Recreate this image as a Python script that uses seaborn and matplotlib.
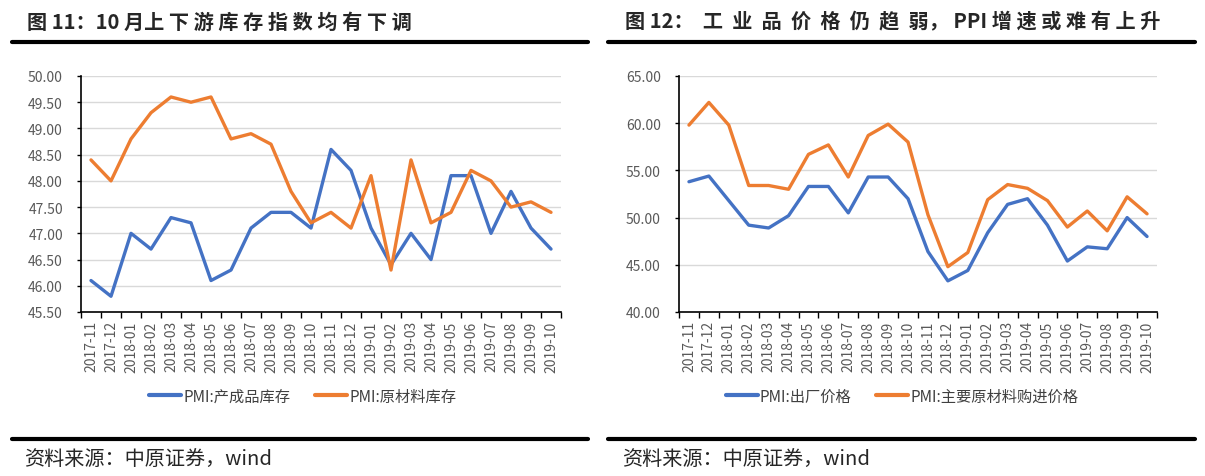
import numpy as np
import pandas as pd
import matplotlib.pyplot as plt
from matplotlib.lines import Line2D
from matplotlib.ticker import FixedLocator
import seaborn as sns

sns.set_theme(style="white")
plt.rcParams['font.family'] = ['Noto Sans CJK SC', 'DejaVu Sans']
plt.rcParams['axes.unicode_minus'] = False

months = ["2017-11", "2017-12", "2018-01", "2018-02", "2018-03", "2018-04",
          "2018-05", "2018-06", "2018-07", "2018-08", "2018-09", "2018-10",
          "2018-11", "2018-12", "2019-01", "2019-02", "2019-03", "2019-04",
          "2019-05", "2019-06", "2019-07", "2019-08", "2019-09", "2019-10"]

# 图11
finished_inv = [46.1, 45.8, 47.0, 46.7, 47.3, 47.2, 46.1, 46.3, 47.1, 47.4, 47.4, 47.1,
                48.6, 48.2, 47.1, 46.4, 47.0, 46.5, 48.1, 48.1, 47.0, 47.8, 47.1, 46.7]
raw_inv = [48.4, 48.0, 48.8, 49.3, 49.6, 49.5, 49.6, 48.8, 48.9, 48.7, 47.8, 47.2,
           47.4, 47.1, 48.1, 46.3, 48.4, 47.2, 47.4, 48.2, 48.0, 47.5, 47.6, 47.4]

# 图12
output_price = [53.8, 54.4, 51.8, 49.2, 48.9, 50.2, 53.3, 53.3, 50.5, 54.3, 54.3, 52.0,
                46.4, 43.3, 44.4, 48.4, 51.4, 52.0, 49.2, 45.4, 46.9, 46.7, 50.0, 48.0]
input_price = [59.8, 62.2, 59.8, 53.4, 53.4, 53.0, 56.7, 57.7, 54.3, 58.7, 59.9, 58.0,
               50.3, 44.8, 46.3, 51.9, 53.5, 53.1, 51.8, 49.0, 50.7, 48.6, 52.2, 50.4]

left_names = ["PMI:产成品库存", "PMI:原材料库存"]
right_names = ["PMI:出厂价格", "PMI:主要原材料购进价格"]
palette = ["#4472C4", "#ED7D31"]

df1 = pd.DataFrame({"月份": months, left_names[0]: finished_inv, left_names[1]: raw_inv})
df1 = df1.melt(id_vars="月份", var_name="指标", value_name="值")
df2 = pd.DataFrame({"月份": months, right_names[0]: output_price, right_names[1]: input_price})
df2 = df2.melt(id_vars="月份", var_name="指标", value_name="值")

W, H = 1205, 477
fig = plt.figure(figsize=(W / 100, H / 100), dpi=100)

ax1 = fig.add_axes([81 / W, 1 - 313 / H, 480 / W, 236 / H])
ax2 = fig.add_axes([679 / W, 1 - 313 / H, 478 / W, 236 / H])


def style_axis(ax, df, names, ymin, ymax, step, legend_x):
    sns.lineplot(data=df, x="月份", y="值", hue="指标", hue_order=names,
                 palette=palette, linewidth=2.4, ax=ax, legend=False, sort=False)
    ax.set_xlim(-0.5, len(months) - 0.5)
    ax.set_ylim(ymin, ymax)
    ax.set_yticks(np.arange(ymin, ymax + step / 2, step))
    ax.yaxis.set_major_formatter(lambda v, p: f"{v:.2f}")
    ax.grid(axis="y", color="#D9D9D9", linewidth=1)
    ax.grid(axis="x", visible=False)
    ax.set_xlabel("")
    ax.set_ylabel("")
    ax.set_xticks(range(len(months)))
    ax.set_xticklabels(months, rotation=90)
    ax.xaxis.set_minor_locator(FixedLocator(np.arange(-0.5, len(months), 1)))
    ax.tick_params(axis="x", which="major", length=0, pad=6, labelsize=10, labelcolor="#595959")
    ax.tick_params(axis="x", which="minor", bottom=True, length=4, width=1, color="black", direction="out")
    ax.tick_params(axis="y", which="major", left=True, length=3, width=1, color="black",
                   labelsize=10, labelcolor="#595959", pad=10)
    for s in ["top", "right"]:
        ax.spines[s].set_visible(False)
    for s in ["left", "bottom"]:
        ax.spines[s].set_color("black")
        ax.spines[s].set_linewidth(1.2)
    handles = [Line2D([], [], color=c, linewidth=3) for c in palette]
    fig.legend(handles, names, loc="center", bbox_to_anchor=(legend_x / W, 1 - 397 / H),
               ncol=2, frameon=False, fontsize=11, handlelength=2.1, handletextpad=0.15,
               columnspacing=1.6, labelcolor="#404040")


style_axis(ax1, df1, left_names, 45.5, 50.0, 0.5, 303)
style_axis(ax2, df2, right_names, 40.0, 65.0, 5.0, 902)

# 标题与分隔线
fig.text(27 / W, 1 - 22 / H, "图 11：10 月上 下 游 库 存 指 数 均 有 下 调", fontsize=14.5,
         fontweight="bold", va="center", ha="left")
fig.text(625 / W, 1 - 22 / H, "图 12：  工  业  品  价  格  仍  趋  弱， PPI 增 速 或 难 有 上 升",
         fontsize=14.5, fontweight="bold", va="center", ha="left")
for x0, x1 in [(12, 588), (608, 1195)]:
    fig.add_artist(Line2D([x0 / W, x1 / W], [1 - 43 / H, 1 - 43 / H], color="black", linewidth=3))
    fig.add_artist(Line2D([x0 / W, x1 / W], [1 - 440 / H, 1 - 440 / H], color="black", linewidth=3))

fig.text(24 / W, 1 - 459 / H, "资料来源：中原证券，wind", fontsize=14.5, va="center", ha="left")
fig.text(622 / W, 1 - 459 / H, "资料来源：中原证券，wind", fontsize=14.5, va="center", ha="left")

fig.savefig("out.png", dpi=100)
